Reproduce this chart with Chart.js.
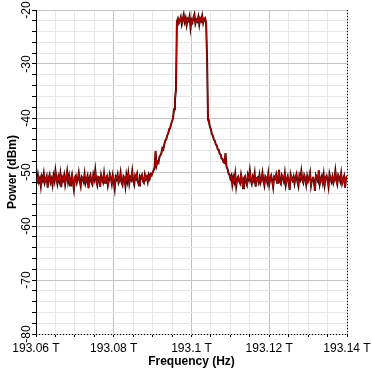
<!DOCTYPE html>
<html>
<head>
<meta charset="utf-8">
<script src="https://cdn.jsdelivr.net/npm/chart.js@4.4.0/dist/chart.umd.min.js"></script>
<style>
    html, body { margin: 0; padding: 0; background: #fff; }
    #wrap { width: 372px; height: 373px; position: relative; }
</style>
</head>
<body>
<div id="wrap"><canvas id="spectrum"></canvas></div>
<script>
// Sampling grid of the analyser (THz)
const freqStart = 193.06;
const freqStep = 0.00025;

// Power readings (dBm), in order of frequency
const floorLeft = [
    -51.0, -52.1, -50.6, -51.8, -51.2, -52.6, -50.9, -51.5, -50.3, -52.0,
    -51.4, -50.8, -52.9, -51.1, -50.5, -51.9, -51.3, -52.4, -50.7, -51.6,
    -49.8, -51.2, -52.2, -50.9, -51.7, -50.4, -52.8, -51.0, -51.5, -50.6,
    -52.3, -51.1, -49.9, -51.8, -50.8, -52.5, -51.3, -50.5, -51.9, -53.2,
    -51.0, -50.7, -52.0, -51.4, -50.2, -51.7, -52.6, -50.9, -51.2, -51.8,
    -50.4, -52.1, -51.5, -50.8, -53.0, -51.1, -50.6, -51.9, -52.3, -50.5,
    -51.3, -49.7, -51.6, -52.4, -50.9, -51.0, -52.7, -50.6, -51.4, -51.9,
    -50.3, -52.0, -51.2, -50.8, -52.5, -51.6, -50.4, -51.1, -52.2, -50.7,
    -51.8, -53.1, -50.9, -51.3, -50.5, -52.0, -51.5, -50.2, -51.9, -52.4,
    -50.8, -51.1, -52.6, -50.6, -51.7, -50.3, -52.1, -51.0, -51.4, -49.9,
    -51.6, -52.3, -50.7, -51.2, -50.4, -51.9, -52.5, -50.8, -51.1, -50.6,
    -51.7, -52.0, -50.5, -51.3, -50.9, -51.8, -50.6, -51.2, -50.4
];
const skirtLeft = [
    -50.6, -50.1, -49.7, -49.2, -46.1, -48.8, -48.1, -48.3, -47.2, -46.9,
    -46.5, -45.6, -45.8, -44.9, -44.2, -44.0, -43.2, -42.9, -42.1, -41.9,
    -41.1, -40.6, -40.0, -38.4, -36.6, -34.8
];
const channelTop = [
    -22.1, -21.6, -22.4, -21.9, -21.3, -22.6, -21.8, -20.9, -22.2, -21.5,
    -22.8, -21.7, -22.0, -21.2, -23.3, -21.9, -22.3, -21.4, -20.8, -22.5,
    -21.8, -22.1, -21.3, -22.7, -21.6, -22.0, -21.1, -22.4, -21.7, -21.5,
    -22.3
];
const skirtRight = [
    -28.7, -40.3, -40.8, -41.7, -42.1, -43.0, -43.3, -44.0, -44.2, -44.9,
    -45.1, -45.8, -45.9, -46.6, -46.8, -47.5, -47.6, -48.2, -48.3, -46.5,
    -49.0, -49.4, -50.2, -50.5
];
const floorRight = [
    -51.2, -50.7, -52.3, -51.0, -51.8, -50.4, -52.6, -51.3, -50.9, -51.7,
    -52.1, -50.5, -51.4, -53.0, -51.1, -50.8, -51.9, -52.4, -50.6, -51.3,
    -49.8, -51.6, -52.2, -50.9, -51.5, -50.3, -52.7, -51.2, -51.0, -51.8,
    -50.6, -52.0, -51.4, -50.2, -51.7, -52.5, -50.8, -51.1, -51.9, -50.4,
    -52.3, -51.3, -50.7, -51.6, -52.8, -50.9, -51.2, -50.5, -52.0, -51.5,
    -49.6, -51.8, -52.2, -50.6, -51.0, -51.7, -50.3, -52.4, -51.4, -50.8,
    -51.9, -53.3, -50.5, -51.2, -51.6, -50.9, -52.1, -51.0, -50.4, -51.8,
    -52.6, -50.7, -51.3, -49.9, -51.5, -52.0, -50.6, -51.1, -52.3, -50.8,
    -51.7, -51.2, -50.2, -52.5, -51.4, -50.9, -51.8, -53.5, -50.6, -51.0,
    -51.6, -49.7, -52.2, -51.3, -50.8, -51.9, -50.5, -52.4, -51.1, -50.7,
    -51.5, -52.7, -50.4, -51.2, -51.8, -50.9, -52.0, -51.3, -49.8, -51.6,
    -52.3, -50.6, -51.0, -51.7, -50.3, -52.1, -51.4, -50.8, -52.9, -51.2,
    -50.7
];

// Axis labels
const xTickValues = [193.06, 193.08, 193.1, 193.12, 193.14];
const xTickLabels = ['193.06 T', '193.08 T', '193.1 T', '193.12 T', '193.14 T'];
const yTickValues = [-20, -30, -40, -50, -60, -70, -80];
const yTickLabels = ['-20', '-30', '-40', '-50', '-60', '-70', '-80'];
const xTitle = 'Frequency (Hz)';
const yTitle = 'Power (dBm)';

const power = [].concat(floorLeft, skirtLeft, channelTop, skirtRight, floorRight);
const trace = power.map((p, i) => ({ x: freqStart + i * freqStep, y: p }));

const FONT = '"Liberation Sans", Arial, sans-serif';
const GRID_MAJOR = '#c4c4c4';
const GRID_MINOR = '#e6e6e6';

// Frame, tick labels and titles drawn on top of the plot
const frame = {
    id: 'frame',
    afterDraw(chart) {
        const { ctx, chartArea: a, scales: { x, y } } = chart;
        ctx.save();
        ctx.strokeStyle = '#000';
        ctx.lineWidth = 1;

        // left axis, solid
        ctx.beginPath();
        ctx.moveTo(a.left + 0.5, a.top);
        ctx.lineTo(a.left + 0.5, a.bottom + 1);
        ctx.stroke();

        // bottom + right border, dotted
        ctx.setLineDash([1, 2]);
        ctx.beginPath();
        ctx.moveTo(a.left, a.bottom + 0.5);
        ctx.lineTo(a.right + 0.5, a.bottom + 0.5);
        ctx.moveTo(a.right + 0.5, a.top);
        ctx.lineTo(a.right + 0.5, a.bottom);
        ctx.stroke();
        ctx.setLineDash([]);

        ctx.fillStyle = '#000';
        ctx.font = '12px ' + FONT;
        ctx.textAlign = 'center';
        ctx.textBaseline = 'middle';
        xTickValues.forEach((v, i) => {
            ctx.fillText(xTickLabels[i], x.getPixelForValue(v), a.bottom + 15);
        });
        yTickValues.forEach((v, i) => {
            ctx.save();
            ctx.translate(a.left - 9, y.getPixelForValue(v));
            ctx.rotate(-Math.PI / 2);
            ctx.fillText(yTickLabels[i], 0, 0);
            ctx.restore();
        });

        ctx.font = 'bold 12px ' + FONT;
        ctx.fillText(xTitle, (a.left + a.right) / 2, a.bottom + 28);
        ctx.save();
        ctx.translate(13, (a.top + a.bottom) / 2);
        ctx.rotate(-Math.PI / 2);
        ctx.fillText(yTitle, 0, 0);
        ctx.restore();
        ctx.restore();
    }
};

const isMajorX = v => Math.round((v - freqStart) / 0.005) % 4 === 0;
const isMajorY = v => Math.round(v) % 10 === 0;

new Chart(document.getElementById('spectrum'), {
    type: 'line',
    data: {
        datasets: [
            {
                data: trace,
                borderColor: '#c00000',
                borderWidth: 1,
                pointRadius: 0,
                tension: 0
            },
            {
                data: trace,
                borderColor: '#4a0000',
                borderWidth: 2,
                pointRadius: 0,
                tension: 0
            }
        ]
    },
    options: {
        responsive: true,
        maintainAspectRatio: false,
        animation: false,
        events: [],
        layout: { padding: { left: 0, top: 10, right: 25, bottom: 0 } },
        plugins: {
            legend: { display: false },
            tooltip: { enabled: false }
        },
        scales: {
            x: {
                type: 'linear',
                min: 193.06,
                max: 193.14,
                border: { display: false },
                ticks: { display: false, stepSize: 0.005 },
                grid: {
                    color: c => isMajorX(c.tick.value) ? GRID_MAJOR : GRID_MINOR,
                    tickColor: '#000',
                    tickLength: 3
                },
                afterFit: s => { s.height = 39; }
            },
            y: {
                min: -80,
                max: -20,
                border: { display: false },
                ticks: { display: false, stepSize: 2 },
                grid: {
                    color: c => isMajorY(c.tick.value) ? GRID_MAJOR : GRID_MINOR,
                    tickColor: '#000',
                    tickLength: 4
                },
                afterFit: s => { s.width = 36; }
            }
        }
    },
    plugins: [frame]
});
</script>
</body>
</html>
